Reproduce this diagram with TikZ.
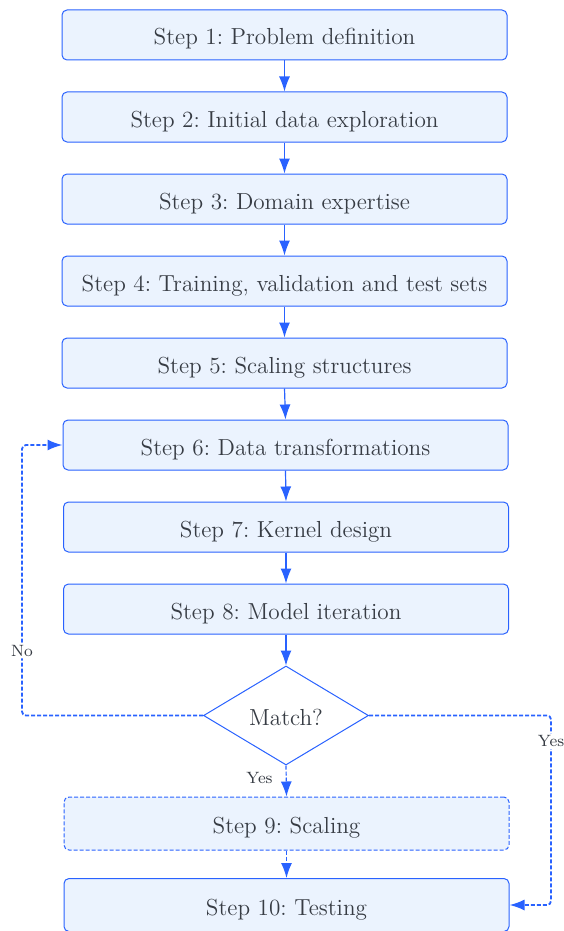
\documentclass[tikz,border=0pt]{standalone}
\usepackage{xcolor}
\usetikzlibrary{arrows.meta,shapes.geometric}
\definecolor{flowblue}{HTML}{2962FF}
\definecolor{flowfill}{HTML}{EBF3FE}
\definecolor{flowtext}{HTML}{373C44}
\tikzset{>={Latex[length=7.5pt,width=5.5pt]}}
\tikzset{
    stepbox/.style={draw=flowblue, fill=flowfill, rounded corners=2.5pt, line width=0.5pt,
        minimum width=222.5pt, minimum height=25pt, text=flowtext,
        text height=10pt, text depth=0pt,
        font=\fontsize{11.6}{14}\selectfont\frenchspacing},
    tallbox/.style={stepbox, minimum height=26.5pt},
    decision/.style={diamond, draw=flowblue, fill=white, line width=0.5pt, inner sep=0pt,
        aspect=1.67, minimum width=82.5pt, minimum height=49.5pt, text=flowtext,
        text height=9.5pt, text depth=0pt,
        font=\fontsize{11.6}{14}\selectfont},
    flow/.style={->, draw=flowblue, line width=0.6pt},
    loopline/.style={->, draw=flowblue, line width=0.9pt, dash pattern=on 2pt off 1pt, rounded corners=2pt},
    flowlabel/.style={text=flowtext, font=\fontsize{8.2}{9}\selectfont, inner sep=1pt}
}
\begin{document}
\begin{tikzpicture}[x=0.5pt, y=-0.5pt]
            \useasboundingbox (0, 0) rectangle (563, 931);
            \node[stepbox] (s1) at (284.5, 35) {Step 1: Problem definition};
            \node[stepbox] (s2) at (284.5, 117) {Step 2: Initial data exploration};
            \node[stepbox] (s3) at (284.5, 199) {Step 3: Domain expertise};
            \node[stepbox] (s4) at (284.5, 281) {Step 4: Training, validation and test sets};
            \node[stepbox] (s5) at (284.5, 363) {Step 5: Scaling structures};
            \node[stepbox] (s6) at (285.5, 445) {Step 6: Data transformations};
            \node[stepbox] (s7) at (286, 527) {Step 7: Kernel design};
            \node[stepbox] (s8) at (286, 609) {Step 8: Model iteration};
            \node[decision] (match) at (286, 715.5) {Match?};
            \node[tallbox, dash pattern=on 2pt off 1pt] (s9) at (286.5, 823.5) {Step 9: Scaling};
            \node[tallbox] (s10) at (286.5, 905) {Step 10: Testing};
            
            \coordinate (noturn) at (22, 715.5);
            \coordinate (yesturn) at (551, 715.5);
            
            \foreach \a/\b in {s1/s2, s2/s3, s3/s4, s4/s5, s5/s6, s6/s7, s7/s8, s8/match} {
                \draw[flow] (\a.south) -- (\b.north);
            }
            
            \draw[flow, dash pattern=on 2pt off 1pt] (match.south) -- node[flowlabel, left, pos=0.39, xshift=-5.5pt] {Yes} (s9.north);
            \draw[flow, dash pattern=on 2pt off 1pt] (s9.south) -- (s10.north);
            
            \draw[loopline] (match.west) -- (noturn) -- node[flowlabel, fill=white, pos=0.24] {No} (noturn |- s6.west) -- (s6.west);
            \draw[loopline] (match.east) -- (yesturn) -- node[flowlabel, fill=white, pos=0.135] {Yes} (yesturn |- s10.east) -- (s10.east);
        \end{tikzpicture}
\end{document}
